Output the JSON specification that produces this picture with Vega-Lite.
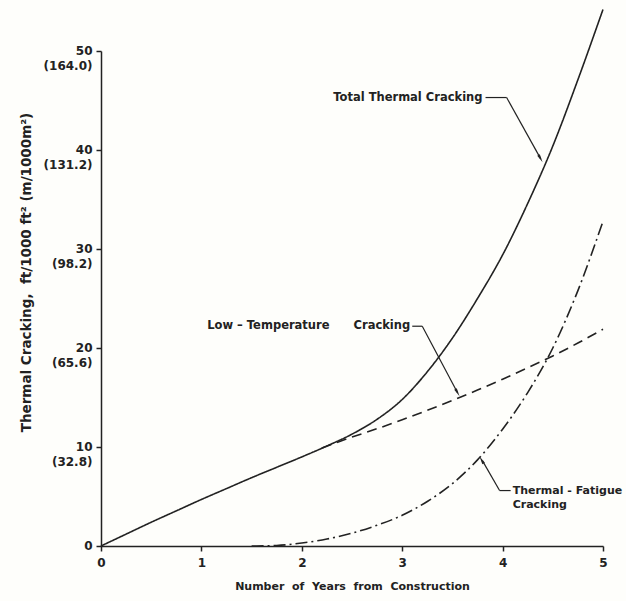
{
  "$schema": "https://vega.github.io/schema/vega-lite/v6.json",
  "width": 502,
  "height": 495,
  "autosize": {"type": "none"},
  "padding": {"left": 101, "top": 51, "right": 23, "bottom": 55},
  "background": "#fefefb",
  "config": {
    "view": {"stroke": null},
    "font": "DejaVu Sans",
    "axis": {
      "grid": false,
      "domainColor": "#222",
      "domainWidth": 1.5,
      "tickColor": "#222",
      "tickWidth": 1.5,
      "labelColor": "#222",
      "titleColor": "#222",
      "labelFont": "DejaVu Sans",
      "labelFontWeight": "bold",
      "titleFont": "DejaVu Sans",
      "titleFontWeight": "bold"
    }
  },
  "datasets": {
    "curves": [
      {"series": "Total", "x": 0, "y": 0},
      {"series": "Total", "x": 0.25, "y": 1.2},
      {"series": "Total", "x": 0.5, "y": 2.4},
      {"series": "Total", "x": 0.75, "y": 3.55},
      {"series": "Total", "x": 1, "y": 4.7},
      {"series": "Total", "x": 1.25, "y": 5.8},
      {"series": "Total", "x": 1.5, "y": 6.9},
      {"series": "Total", "x": 1.75, "y": 7.95},
      {"series": "Total", "x": 2, "y": 9.0},
      {"series": "Total", "x": 2.25, "y": 10.1},
      {"series": "Total", "x": 2.5, "y": 11.3},
      {"series": "Total", "x": 2.75, "y": 12.8},
      {"series": "Total", "x": 3, "y": 14.8},
      {"series": "Total", "x": 3.25, "y": 17.6},
      {"series": "Total", "x": 3.5, "y": 21.0},
      {"series": "Total", "x": 3.75, "y": 25.0},
      {"series": "Total", "x": 4, "y": 29.4},
      {"series": "Total", "x": 4.25, "y": 34.6},
      {"series": "Total", "x": 4.5, "y": 40.4},
      {"series": "Total", "x": 4.75, "y": 47.1},
      {"series": "Total", "x": 5, "y": 54.2},
      {"series": "Low", "x": 2.2, "y": 9.9},
      {"series": "Low", "x": 2.5, "y": 11.0},
      {"series": "Low", "x": 2.75, "y": 11.85},
      {"series": "Low", "x": 3, "y": 12.75},
      {"series": "Low", "x": 3.25, "y": 13.7},
      {"series": "Low", "x": 3.5, "y": 14.7},
      {"series": "Low", "x": 3.75, "y": 15.75},
      {"series": "Low", "x": 4, "y": 16.85},
      {"series": "Low", "x": 4.25, "y": 18.0},
      {"series": "Low", "x": 4.5, "y": 19.2},
      {"series": "Low", "x": 4.75, "y": 20.5},
      {"series": "Low", "x": 5, "y": 21.9},
      {"series": "Fatigue", "x": 1.5, "y": 0},
      {"series": "Fatigue", "x": 1.75, "y": 0.05},
      {"series": "Fatigue", "x": 2, "y": 0.3},
      {"series": "Fatigue", "x": 2.25, "y": 0.7},
      {"series": "Fatigue", "x": 2.5, "y": 1.3},
      {"series": "Fatigue", "x": 2.75, "y": 2.1},
      {"series": "Fatigue", "x": 3, "y": 3.1},
      {"series": "Fatigue", "x": 3.25, "y": 4.5},
      {"series": "Fatigue", "x": 3.5, "y": 6.3},
      {"series": "Fatigue", "x": 3.75, "y": 8.7},
      {"series": "Fatigue", "x": 4, "y": 11.8},
      {"series": "Fatigue", "x": 4.25, "y": 15.5},
      {"series": "Fatigue", "x": 4.5, "y": 20.0},
      {"series": "Fatigue", "x": 4.75, "y": 25.8},
      {"series": "Fatigue", "x": 5, "y": 32.8}
    ],
    "leaders": [
      {"x": 3.83, "y": 45.3, "x2": 4.04, "y2": 45.3},
      {"x": 4.04, "y": 45.3, "x2": 4.38, "y2": 39.1},
      {"x": 3.10, "y": 22.2, "x2": 3.20, "y2": 22.2},
      {"x": 3.20, "y": 22.2, "x2": 3.55, "y2": 15.5},
      {"x": 4.08, "y": 5.6, "x2": 3.97, "y2": 5.6},
      {"x": 3.97, "y": 5.6, "x2": 3.80, "y2": 8.6}
    ],
    "arrows": [
      {"which": "total", "x": 4.378, "y": 39.13},
      {"which": "low", "x": 3.551, "y": 15.49},
      {"which": "fatigue", "x": 3.79, "y": 8.7}
    ],
    "labelsRight": [
      {"t": "Total Thermal Cracking", "x": 3.80, "y": 45.3},
      {"t": "Low\u00a0–\u00a0Temperature\u00a0\u00a0\u00a0\u00a0\u00a0\u00a0Cracking", "x": 3.08, "y": 22.2}
    ],
    "labelsLeft": [
      {"t": "Thermal\u00a0-\u00a0Fatigue", "x": 4.10, "y": 5.6},
      {"t": "Cracking", "x": 4.10, "y": 4.1}
    ]
  },
  "layer": [
    {
      "data": {"name": "curves"},
      "mark": {"type": "line", "strokeWidth": 1.6, "color": "#222", "interpolate": "monotone"},
      "encoding": {
        "x": {
          "field": "x", "type": "quantitative",
          "scale": {"domain": [0, 5], "nice": false},
          "axis": {
            "values": [0, 1, 2, 3, 4, 5],
            "format": "d",
            "title": "Number\u00a0 of\u00a0 Years\u00a0 from\u00a0 Construction",
            "tickSize": 5,
            "labelPadding": 6,
            "labelFontSize": 12,
            "titleFontSize": 11,
            "titlePadding": 12,
            "labelFlush": false
          }
        },
        "y": {
          "field": "y", "type": "quantitative",
          "scale": {"domain": [0, 50], "nice": false},
          "axis": {
            "values": [0, 10, 20, 30, 40, 50],
            "labelExpr": "datum.value == 50 ? ['50', '(164.0)'] : datum.value == 40 ? ['40', '(131.2)'] : datum.value == 30 ? ['30', '(98.2)'] : datum.value == 20 ? ['20', '(65.6)'] : datum.value == 10 ? ['10', '(32.8)'] : '0'",
            "labelBaseline": "top",
            "labelOffset": -6,
            "labelLineHeight": 15,
            "labelFontSize": 12,
            "labelPadding": 4,
            "tickSize": 5,
            "title": "Thermal Cracking,\u00a0 ft/1000 ft² (m/1000m²)",
            "titleFontSize": 13.5,
            "titleAngle": 270,
            "titleX": -75,
            "titleY": 221,
            "titleAlign": "center",
            "titleBaseline": "middle"
          }
        },
        "detail": {"field": "series"},
        "strokeDash": {
          "field": "series", "type": "nominal",
          "scale": {"domain": ["Total", "Low", "Fatigue"], "range": [[1, 0], [10, 6], [12, 4, 2, 4]]},
          "legend": null
        }
      }
    },
    {
      "data": {"name": "leaders"},
      "mark": {"type": "rule", "color": "#222", "strokeWidth": 1.2},
      "encoding": {
        "x": {"field": "x", "type": "quantitative"},
        "y": {"field": "y", "type": "quantitative"},
        "x2": {"field": "x2"},
        "y2": {"field": "y2"}
      }
    },
    {
      "data": {"name": "arrows"},
      "transform": [{"filter": "datum.which != 'fatigue'"}],
      "mark": {"type": "point", "shape": "M0,-1L0.35,1L-0.35,1Z", "filled": true, "color": "#222", "size": 70, "angle": 151, "opacity": 1},
      "encoding": {
        "x": {"field": "x", "type": "quantitative"},
        "y": {"field": "y", "type": "quantitative"}
      }
    },
    {
      "data": {"name": "arrows"},
      "transform": [{"filter": "datum.which == 'fatigue'"}],
      "mark": {"type": "point", "shape": "M0,-1L0.35,1L-0.35,1Z", "filled": true, "color": "#222", "size": 70, "angle": 330, "opacity": 1},
      "encoding": {
        "x": {"field": "x", "type": "quantitative"},
        "y": {"field": "y", "type": "quantitative"}
      }
    },
    {
      "data": {"name": "labelsRight"},
      "mark": {"type": "text", "align": "right", "baseline": "middle", "font": "DejaVu Sans", "fontWeight": "bold", "fontSize": 11.5, "color": "#222"},
      "encoding": {
        "x": {"field": "x", "type": "quantitative"},
        "y": {"field": "y", "type": "quantitative"},
        "text": {"field": "t"}
      }
    },
    {
      "data": {"name": "labelsLeft"},
      "mark": {"type": "text", "align": "left", "baseline": "middle", "font": "DejaVu Sans", "fontWeight": "bold", "fontSize": 11, "color": "#222"},
      "encoding": {
        "x": {"field": "x", "type": "quantitative"},
        "y": {"field": "y", "type": "quantitative"},
        "text": {"field": "t"}
      }
    }
  ]
}
